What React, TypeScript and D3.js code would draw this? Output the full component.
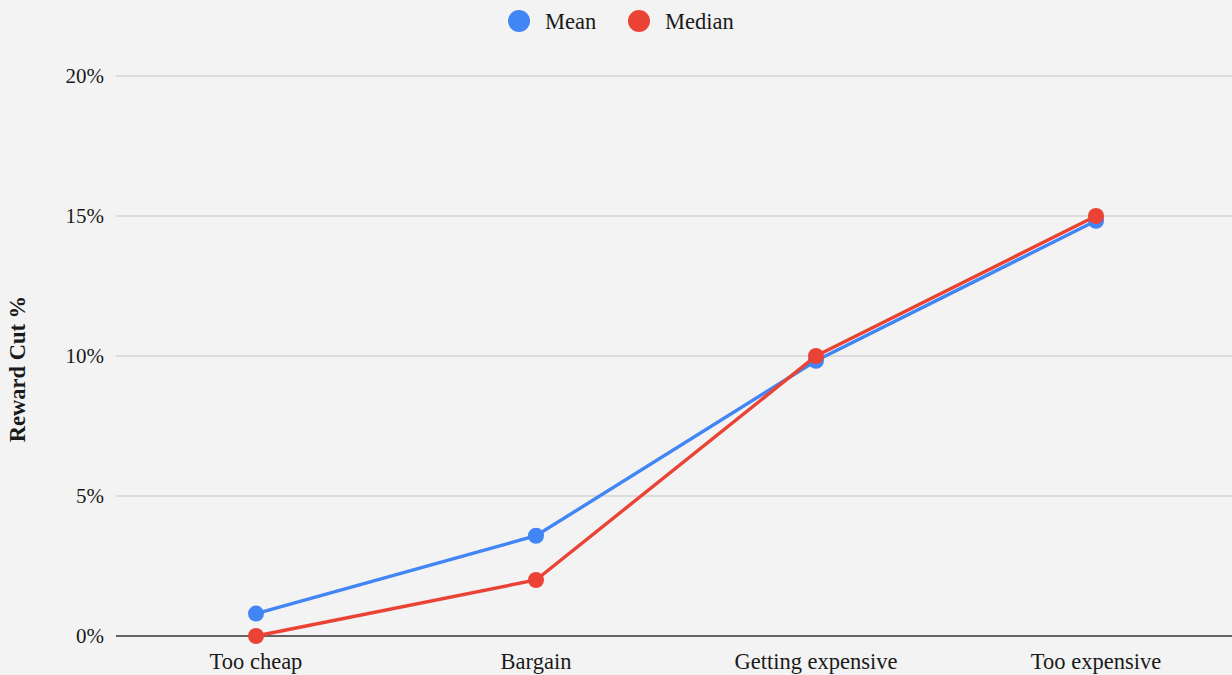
import * as d3 from "d3";

const categories = ["Too cheap", "Bargain", "Getting expensive", "Too expensive"];
const meanValues = [0.8, 3.58, 9.83, 14.83];
const medianValues = [0, 2, 10, 15];
const yTicks = [0, 5, 10, 15, 20];

const seriesList = [
  { name: "Mean", color: "#4285f4", values: meanValues },
  { name: "Median", color: "#ea4335", values: medianValues },
];

const W = 1232;
const H = 675;
const FONT = "'Liberation Serif', 'Times New Roman', serif";

export default function App() {
  const x = d3.scaleBand<string>().domain(categories).range([116, 1236]);
  const y = d3.scaleLinear().domain([0, 20]).range([636, 76]);
  const cx = (c: string) => (x(c) ?? 0) + x.bandwidth() / 2;

  const line = d3
    .line<number>()
    .x((_, i) => cx(categories[i]))
    .y((d) => y(d));

  return (
    <div style={{ position: "absolute", left: 0, top: 0 }}>
      <svg width={W} height={H} style={{ display: "block", fontFamily: FONT }}>
        <rect width={W} height={H} fill="#f3f3f3" />

        {/* gridlines + tick labels */}
        {yTicks.map((t) => (
          <g key={t}>
            <line
              x1={116}
              x2={W}
              y1={y(t)}
              y2={y(t)}
              stroke={t === 0 ? "#333" : "#c6c6c6"}
              strokeWidth={t === 0 ? 1.6 : 1.2}
            />
            <text x={104} y={y(t)} dy="0.35em" textAnchor="end" fontSize={21} fill="#1a1a1a">
              {t}%
            </text>
          </g>
        ))}

        {/* category labels */}
        {categories.map((c) => (
          <text key={c} x={cx(c)} y={669} textAnchor="middle" fontSize={22.5} fill="#1a1a1a">
            {c}
          </text>
        ))}

        {/* y axis title */}
        <text
          transform="translate(25,369) rotate(-90)"
          textAnchor="middle"
          fontSize={22.5}
          fontWeight="bold"
          fill="#1a1a1a"
        >
          Reward Cut %
        </text>

        {/* lines */}
        {seriesList.map((s) => (
          <g key={s.name}>
            <path d={line(s.values) ?? ""} fill="none" stroke={s.color} strokeWidth={3.4} />
            {s.values.map((v, i) => (
              <circle key={i} cx={cx(categories[i])} cy={y(v)} r={8} fill={s.color} />
            ))}
          </g>
        ))}

        {/* legend */}
        {seriesList.map((s, i) => {
          const lx = i === 0 ? 519 : 639;
          return (
            <g key={s.name}>
              <circle cx={lx} cy={21} r={11} fill={s.color} />
              <text x={lx + 26} y={21} dy="0.35em" fontSize={22.5} fill="#1a1a1a">
                {s.name}
              </text>
            </g>
          );
        })}
      </svg>
    </div>
  );
}
